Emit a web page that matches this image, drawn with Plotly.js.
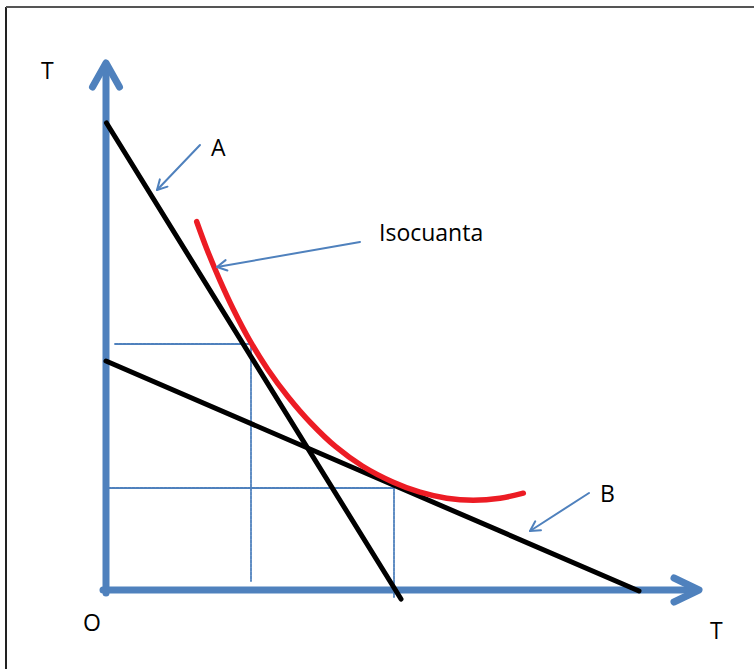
<!DOCTYPE html>
<html>
<head>
<meta charset="utf-8">
<script src="https://cdn.plot.ly/plotly-3.0.1.min.js"></script>
<style>
  body { margin: 0; background: #fff; }
  #plot { width: 754px; height: 669px; }
  .scatterlayer path.js-line { stroke-linecap: round; stroke-linejoin: round; }
</style>
</head>
<body>
<div id="plot"></div>
<script>
// Units: pixels measured from the origin O, y pointing up

// Axes (shaft ends) and their open arrow heads
const yAxisX = [0, 0];
const yAxisY = [-3, 524];
const yHeadX = [-13.5, 0, 13.5];
const yHeadY = [503, 527, 503];
const xAxisX = [-3, 590];
const xAxisY = [0, 0];
const xHeadX = [568, 593, 568];
const xHeadY = [12, 0, -12];

// Budget lines A and B
const lineAX = [0.5, 295];
const lineAY = [467, -9];
const lineBX = [0, 533];
const lineBY = [229, -1];

// Isoquant
const isoX = [90.7, 100.7, 114, 127.3, 144, 162, 182, 205.3, 229.7, 256.3, 287.3, 314, 340.7, 367.3, 394, 417.3];
const isoY = [368.3, 341.3, 309.4, 280.8, 249.1, 220.3, 193.3, 166.5, 143.3, 124, 107.8, 97.8, 91.8, 89.8, 91.8, 96.8];

// Dotted guide lines
const guides = [
  { x: [9, 145], y: [246, 246] },
  { x: [145, 145], y: [246, 9] },
  { x: [2, 288], y: [102, 102] },
  { x: [288, 288], y: [102, -7] }
];

// Pointer arrows: tail -> tip
const pointers = [
  { from: [94, 445], to: [51, 400] },
  { from: [254, 348], to: [111, 323] },
  { from: [483, 97], to: [424, 59] }
];

// Text labels
const labelText = ["T", "A", "Isocuanta", "B", "O", "T"];
const labelX = [-59, 112, 325, 501, -14, 610];
const labelY = [520, 443, 358, 97, -32, -40];

const blue = "#4f81bd";
const traces = [];

guides.forEach(g => traces.push({
  x: g.x, y: g.y, mode: "lines", hoverinfo: "skip",
  line: { color: blue, width: 1.8, dash: "3px,1px" }
}));

traces.push({ x: yAxisX, y: yAxisY, mode: "lines", line: { color: blue, width: 7 } });
traces.push({ x: yHeadX, y: yHeadY, mode: "lines", line: { color: blue, width: 7 } });
traces.push({ x: xAxisX, y: xAxisY, mode: "lines", line: { color: blue, width: 7 } });
traces.push({ x: xHeadX, y: xHeadY, mode: "lines", line: { color: blue, width: 7 } });

traces.push({ x: lineAX, y: lineAY, mode: "lines", line: { color: "#000", width: 5 } });
traces.push({ x: lineBX, y: lineBY, mode: "lines", line: { color: "#000", width: 5 } });

traces.push({ x: isoX, y: isoY, mode: "lines", line: { color: "#ec1c24", width: 5.5, shape: "spline", smoothing: 1 } });

// small open heads on the pointer arrows
pointers.forEach(p => {
  const dx = p.from[0] - p.to[0], dy = p.from[1] - p.to[1];
  const len = Math.hypot(dx, dy), ux = dx / len, uy = dy / len;
  const a = 0.5, h = 11;
  const rot = s => [p.to[0] + h * (ux * Math.cos(s * a) - uy * Math.sin(s * a)),
                    p.to[1] + h * (ux * Math.sin(s * a) + uy * Math.cos(s * a))];
  const l = rot(1), r = rot(-1);
  traces.push({ x: [p.from[0], p.to[0]], y: [p.from[1], p.to[1]], mode: "lines", line: { color: blue, width: 2 } });
  traces.push({ x: [l[0], p.to[0], r[0]], y: [l[1], p.to[1], r[1]], mode: "lines", line: { color: blue, width: 2 } });
});

const annotations = labelText.map((t, i) => ({
  x: labelX[i], y: labelY[i], xref: "x", yref: "y", text: t, showarrow: false,
  font: { family: "Open Sans, Liberation Sans, sans-serif", size: 23, color: "#000" }
}));

const layout = {
  width: 754, height: 669,
  margin: { l: 0, r: 0, t: 0, b: 0 },
  paper_bgcolor: "#fff", plot_bgcolor: "#fff",
  showlegend: false,
  xaxis: { range: [-106, 648], visible: false, fixedrange: true },
  yaxis: { range: [-79, 590], visible: false, fixedrange: true },
  annotations,
  shapes: [
    { type: "line", xref: "paper", yref: "paper", x0: 6 / 754, x1: 6 / 754, y0: 0, y1: 1 - 7 / 669, line: { color: "#222", width: 2 } },
    { type: "line", xref: "paper", yref: "paper", x0: 6 / 754, x1: 1, y0: 1 - 7 / 669, y1: 1 - 7 / 669, line: { color: "#555", width: 2 } }
  ]
};

Plotly.newPlot("plot", traces, layout, { staticPlot: true, displayModeBar: false });
</script>
</body>
</html>
